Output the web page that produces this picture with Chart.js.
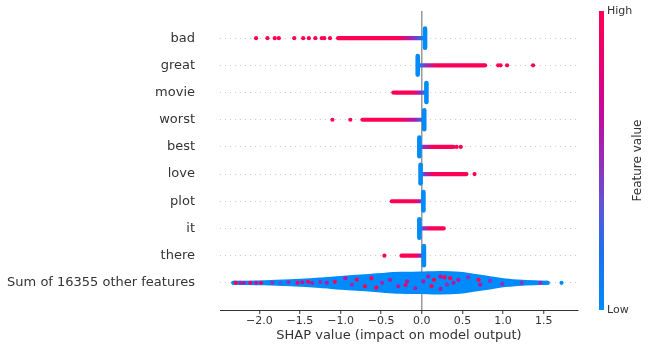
<!DOCTYPE html>
<html>
<head>
<meta charset="utf-8">
<script src="https://cdn.jsdelivr.net/npm/chart.js@4/dist/chart.umd.min.js"></script>
<style>
html,body{margin:0;padding:0;background:#fff;}
#wrap{width:652px;height:351px;position:relative;}
</style>
</head>
<body>
<div id="wrap"><canvas id="c" width="652" height="351"></canvas></div>
<script>
// ---------- data ----------
const FEATURES = ['bad','great','movie','worst','best','love','plot','it','there','Sum of 16355 other features'];
const X_TICKS = [-2.0,-1.5,-1.0,-0.5,0.0,0.5,1.0,1.5];
const X_MIN = -2.484, X_MAX = 1.923;

// blue stacks of low-value samples (one per single-word feature)
const PILE_X    = [0.04, -0.05, 0.057, 0.03, -0.03, -0.015, 0.02, -0.03, 0.026];
const PILE_HALF = [0.35, 0.34, 0.35, 0.35, 0.34, 0.34, 0.34, 0.34, 0.35];

// dense bands: x positions and feature value (0 low .. 1 high) along them
const BAND_X = [
  [-1.03, -0.30, -0.12, 0.02],
  [-0.03, 0.05, 0.18, 0.78],
  [-0.33, -0.12, -0.04, 0.04],
  [-0.73, -0.28, -0.10, 0.02],
  [-0.02, 0.03, 0.13, 0.39],
  [0.00, 0.04, 0.14, 0.55],
  [-0.37, -0.10, -0.03, 0.01],
  [-0.02, 0.03, 0.10, 0.27],
  [-0.25, -0.08, -0.03, 0.02]
];
const BAND_C = [
  [1, 1, 0.55, 0.05],
  [0.1, 0.5, 0.95, 1],
  [1, 1, 0.6, 0.1],
  [1, 1, 0.6, 0.1],
  [0.1, 0.5, 0.95, 1],
  [0.1, 0.5, 0.95, 1],
  [1, 1, 0.6, 0.1],
  [0.1, 0.5, 0.95, 1],
  [1, 1, 0.6, 0.1]
];
// isolated high-value samples
const OUTLIERS = [
  [-2.04, -1.90, -1.81, -1.76, -1.57, -1.46, -1.39, -1.31, -1.23, -1.20, -1.13],
  [0.94, 0.97, 1.05, 1.37],
  [-0.35],
  [-1.10, -0.88],
  [0.43, 0.48],
  [0.65],
  [],
  [],
  [-0.46]
];

// "Sum of other features" swarm outline (centre half-height in row units)
const SUM_ENV_X    = [-2.32, -1.93, -1.62, -1.25, -1.00, -0.70, -0.45, -0.27, -0.02, 0.23, 0.47, 0.66, 0.84, 1.03, 1.24, 1.55];
const SUM_ENV_HALF = [0.0, 0.018, 0.055, 0.12, 0.18, 0.24, 0.30, 0.33, 0.34, 0.36, 0.33, 0.25, 0.17, 0.085, 0.035, 0.0];
// coloured samples visible inside the swarm
const SUM_DOT_X = [-2.29,-2.23,-2.19,-2.11,-2.04,-1.98,-1.84,-1.74,-1.64,-1.47,-1.40,-1.35,-1.25,-1.17,-1.07,
  -0.94,-0.86,-0.70,-0.62,-0.49,-0.39,-0.29,-0.18,-0.08,0.08,0.15,0.23,0.23,0.31,0.35,0.39,
  -1.53,-0.80,-0.56,-0.20,0.02,0.12,0.28,0.45,0.57,0.70,0.72,0.84,0.99,1.23,1.46,1.72];
const SUM_DOT_Y = [0,0,0,0,0,0,0,0,0.02,0.02,0.04,0,0.03,0,0.04,
  0.17,-0.07,-0.13,0.17,0,0.11,-0.13,0.05,-0.2,0.23,0.11,0.23,-0.22,-0.07,0.17,0,
  0.0,0.12,-0.18,-0.08,0.05,-0.12,0.2,0.11,0.2,0.11,-0.07,0.07,-0.04,0,0,0];
const SUM_DOT_C = [1,0.55,0.55,0.95,0.6,0.95,0.5,0.3,0.5,0.6,0.95,0.55,0.5,0.6,0.95,
  0.6,0.5,1,1,0.55,0.6,0.6,0.6,0.55,0.6,1,0.7,0.6,0.5,1,0.6,
  0.9,0.95,1,0.9,0.6,1,0.95,0.6,0.5,1,0.6,0.5,0.5,0.5,0.5,0];

// ---------- colours ----------
const CMAP = [[0,[0,139,251]],[0.2,[30,112,236]],[0.35,[95,85,215]],[0.5,[150,45,185]],[0.65,[195,10,160]],[0.8,[230,0,120]],[1,[255,0,82]]];
function cmap(t){
  t = Math.max(0, Math.min(1, t));
  for (let i=1;i<CMAP.length;i++){
    if (t <= CMAP[i][0]){
      const [t0,c0] = CMAP[i-1], [t1,c1] = CMAP[i];
      const f = (t-t0)/(t1-t0);
      const c = c0.map((v,k)=>Math.round(v+(c1[k]-v)*f));
      return `rgb(${c[0]},${c[1]},${c[2]})`;
    }
  }
  return 'rgb(255,0,82)';
}
const BLUE = cmap(0), RED = cmap(1);
const rowY = i => FEATURES.length - 1 - i;

function bandGradient(chart, xs, cs){
  const sx = chart.scales.x;
  if (!chart.chartArea || !sx) return cmap(cs[cs.length-1]);
  const x0 = sx.getPixelForValue(xs[0]), x1 = sx.getPixelForValue(xs[xs.length-1]);
  const g = chart.ctx.createLinearGradient(x0, 0, x1, 0);
  xs.forEach((x,k)=>{
    const p = (sx.getPixelForValue(x)-x0)/(x1-x0);
    g.addColorStop(Math.max(0,Math.min(1,p)), cmap(cs[k]));
  });
  return g;
}

// ---------- datasets ----------
const datasets = [];
const sumY = rowY(FEATURES.length-1);
datasets.push({
  type:'line', data: SUM_ENV_X.map((x,k)=>({x, y: sumY + SUM_ENV_HALF[k]})),
  borderColor: BLUE, backgroundColor: BLUE, borderWidth: 4, pointRadius: 0,
  fill: '+1', cubicInterpolationMode: 'monotone', borderCapStyle:'round', borderJoinStyle:'round', order: 20
});
datasets.push({
  type:'line', data: SUM_ENV_X.map((x,k)=>({x, y: sumY - SUM_ENV_HALF[k]})),
  borderColor: BLUE, backgroundColor: BLUE, borderWidth: 4, pointRadius: 0,
  fill: false, cubicInterpolationMode: 'monotone', borderCapStyle:'round', borderJoinStyle:'round', order: 20
});
BAND_X.forEach((xs,i)=>{
  const cs = BAND_C[i];
  datasets.push({
    type:'line', data: xs.map(x=>({x, y: rowY(i)})),
    borderColor: (ctx)=>bandGradient(ctx.chart, xs, cs),
    borderWidth: 4.2, pointRadius: 0, fill:false, borderCapStyle:'round', order: 10
  });
});
PILE_X.forEach((x,i)=>{
  datasets.push({
    type:'line', data: [{x, y: rowY(i)-PILE_HALF[i]}, {x, y: rowY(i)+PILE_HALF[i]}],
    borderColor: BLUE, borderWidth: 4.6, pointRadius: 0, fill:false, borderCapStyle:'round', order: 5
  });
});
const outPts = [];
OUTLIERS.forEach((xs,i)=>xs.forEach(x=>outPts.push({x, y: rowY(i)})));
datasets.push({
  type:'scatter', data: outPts, pointRadius: 2.1, pointBorderWidth: 0,
  pointBackgroundColor: RED, order: 1
});
datasets.push({
  type:'scatter', data: SUM_DOT_X.map((x,k)=>({x, y: sumY + SUM_DOT_Y[k]})),
  pointRadius: 2.1, pointBorderWidth: 0,
  pointBackgroundColor: SUM_DOT_C.map(cmap), order: 1
});

// ---------- colour bar ----------
const colorBar = {
  id:'colorBar',
  afterDraw(chart){
    const c = chart.ctx, top = chart.chartArea.top, bot = chart.chartArea.bottom;
    const g = c.createLinearGradient(0, bot, 0, top);
    CMAP.forEach(([t])=>g.addColorStop(t, cmap(t)));
    c.save();
    c.fillStyle = g;
    c.fillRect(599, top, 5, bot-top);
    c.fillStyle = '#333';
    c.font = '11px "DejaVu Sans"';
    c.textAlign = 'left'; c.textBaseline = 'middle';
    c.fillText('High', 607, top);
    c.fillText('Low', 607, bot);
    c.translate(638, (top+bot)/2);
    c.rotate(-Math.PI/2);
    c.textAlign = 'center';
    c.font = '12px "DejaVu Sans"';
    c.fillText('Feature value', 0, 0);
    c.restore();
  }
};

Chart.defaults.font.family = '"DejaVu Sans", sans-serif';
Chart.defaults.color = '#333';

new Chart(document.getElementById('c'), {
  type: 'scatter',
  data: { datasets },
  options: {
    responsive: false, animation: false, devicePixelRatio: 1,
    layout: { padding: { top: 11, right: 74, left: 0, bottom: 0 } },
    plugins: { legend: { display: false }, tooltip: { enabled: false }, title: { display: false } },
    scales: {
      x: {
        type: 'linear', min: X_MIN, max: X_MAX,
        afterBuildTicks: s => { s.ticks = X_TICKS.map(v=>({value:v})); },
        afterFit: s => { s.height = 41; s.paddingLeft = 0; s.paddingRight = 0; s.paddingTop = 0; s.paddingBottom = 0; },
        ticks: { font: { size: 11 }, color: '#333', padding: 1, maxRotation: 0,
                 callback: v => v.toFixed(1).replace('-', '\u2212') },
        grid: { drawOnChartArea: true, drawTicks: true, tickLength: 4, tickWidth: 1, tickColor: '#333',
                lineWidth: 1.5, color: ctx => (ctx.tick && ctx.tick.value === 0) ? '#999999' : 'rgba(0,0,0,0)' },
        border: { display: true, color: '#333', width: 1 },
        title: { display: true, text: 'SHAP value (impact on model output)', font: { size: 13 }, color: '#333',
                 padding: { top: 0, bottom: 8 } }
      },
      y: {
        type: 'linear', min: -1, max: FEATURES.length,
        afterBuildTicks: s => { s.ticks = FEATURES.map((f,i)=>({value: i})); },
        afterFit: s => { s.width = 220; s.paddingTop = 0; s.paddingBottom = 0; s.paddingLeft = 0; s.paddingRight = 0; },
        ticks: { font: { size: 13 }, color: '#333', padding: 25,
                 callback: v => FEATURES[FEATURES.length-1-v] },
        grid: { drawTicks: false, color: '#cccccc', lineWidth: 1 },
        border: { display: false, dash: [1, 4] }
      }
    }
  },
  plugins: [colorBar]
});
</script>
</body>
</html>
